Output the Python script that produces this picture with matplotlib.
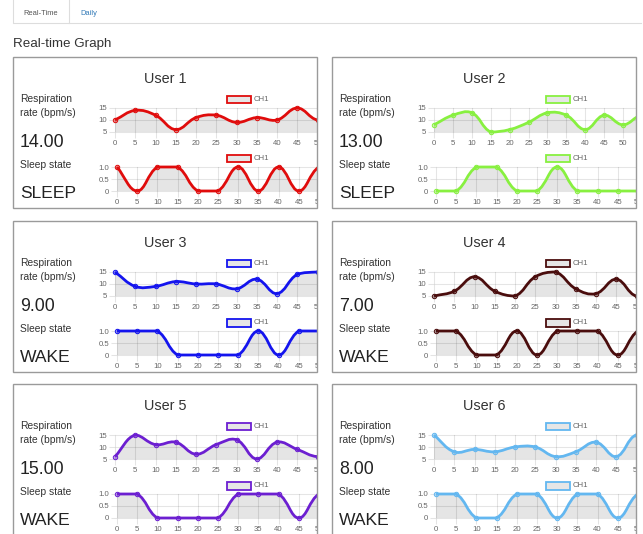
import numpy as np
import matplotlib
matplotlib.use("Agg")
import matplotlib.pyplot as plt
from matplotlib.path import Path
from matplotlib.patches import PathPatch, Rectangle
from matplotlib.lines import Line2D
from matplotlib.transforms import Affine2D

W, H = 643, 534
plt.rcParams["font.family"] = ["Liberation Sans", "DejaVu Sans"]

# Data
users = ["User 1", "User 2", "User 3", "User 4", "User 5", "User 6"]
resp_now = ["14.00", "13.00", "9.00", "7.00", "15.00", "8.00"]
states = ["SLEEP", "SLEEP", "WAKE", "WAKE", "WAKE", "WAKE"]
colors = ["#e00c0c", "#88f040", "#1414ee", "#4a0d0d", "#6c1fd1", "#63b7f0"]

labels = [0, 5, 10, 15, 20, 25, 30, 35, 40, 45, 50, 55]
labels_u2 = [0, 5, 10, 15, 20, 25, 30, 35, 40, 45, 50, 55, 60]

resp_1 = [10, 14, 12, 6, 11, 12, 9, 11, 10, 15, 10, 12]
resp_2 = [8, 12, 13, 5, 6, 9, 13, 12, 6, 12, 8, 12, 10]
resp_3 = [15, 9, 9, 11, 10, 10, 8, 12, 6, 14, 15, 15]
resp_4 = [5, 7, 13, 7, 5, 13, 15, 8, 6, 12, 5, 9]
resp_5 = [6, 15, 11, 12, 7, 11, 13, 5, 12, 9, 6, 8]
resp_6 = [15, 8, 9, 8, 10, 10, 6, 8, 12, 6, 15, 10]

sleep_1 = [1, 0, 1, 1, 0, 0, 1, 0, 1, 0, 1, 1]
sleep_2 = [0, 0, 1, 1, 0, 0, 1, 0, 0, 0, 0, 0]
sleep_3 = [1, 1, 1, 0, 0, 0, 0, 1, 0, 1, 1, 1]
sleep_4 = [1, 1, 0, 0, 1, 0, 1, 1, 1, 0, 1, 1]
sleep_5 = [1, 1, 0, 0, 0, 0, 1, 1, 1, 0, 1, 1]
sleep_6 = [1, 1, 0, 0, 1, 1, 0, 1, 1, 0, 1, 1]

resp_series = [(labels, resp_1), (labels_u2, resp_2), (labels, resp_3),
               (labels, resp_4), (labels, resp_5), (labels, resp_6)]
sleep_series = [sleep_1, sleep_2, sleep_3, sleep_4, sleep_5, sleep_6]

resp_ticks = [5, 10, 15]
resp_ticklabels = ["5", "10", "15"]
sleep_ticks = [0, 0.5, 1.0]
sleep_ticklabels = ["0", "0.5", "1.0"]

TXT = "#333333"

fig = plt.figure(figsize=(W / 100, H / 100), dpi=100)
px = Affine2D().scale(1 / W, -1 / H).translate(0, 1) + fig.transFigure


def fig_rect(x, y, w, h):
    # pixel box (top-left origin) -> figure fraction [l, b, w, h]
    return [x / W, 1 - (y + h) / H, w / W, h / H]


def spline(xs, ys, sx, sy, lo, hi, t=0.4):
    # chart.js style bezier (tension 0.4, control points capped to area)
    pxs = np.asarray(xs, float) * sx
    pys = np.asarray(ys, float) * sy
    n = len(pxs)
    cin, cout = [], []
    for i in range(n):
        a, b = max(i - 1, 0), min(i + 1, n - 1)
        d01 = np.hypot(pxs[i] - pxs[a], pys[i] - pys[a])
        d12 = np.hypot(pxs[b] - pxs[i], pys[b] - pys[i])
        tot = d01 + d12
        fa = t * (d01 / tot if tot else 0)
        fb = t * (d12 / tot if tot else 0)
        dx, dy = pxs[b] - pxs[a], pys[b] - pys[a]
        cin.append((pxs[i] - fa * dx, pys[i] - fa * dy))
        cout.append((pxs[i] + fb * dx, pys[i] + fb * dy))

    def back(p):
        return (p[0] / sx, min(max(p[1] / sy, lo), hi))

    verts = [(xs[0], ys[0])]
    codes = [Path.MOVETO]
    for i in range(1, n):
        verts += [back(cout[i - 1]), back(cin[i]), (xs[i], ys[i])]
        codes += [Path.CURVE4] * 3
    return verts, codes


def draw_chart(box, xs, ys, color, lo, hi, ticks, ticklabels, ppu, clip):
    x0, y0, w, h = box
    ax = fig.add_axes(fig_rect(x0, y0, w, h))
    for s in ax.spines.values():
        s.set_visible(False)
    ax.set_xticks(xs)
    ax.set_yticks(ticks)
    ax.set_yticklabels(ticklabels)
    # limits after the ticks, set_xticks would widen them
    ax.set_xlim(0, w / ppu)
    ax.set_ylim(lo, hi)
    ax.tick_params(length=4, width=0.75, color="#e4e4e4", labelsize=5.6,
                   labelcolor="#666666", pad=1.8)
    ax.grid(True, color="#000000", alpha=0.1, lw=0.75)
    for tk in ax.xaxis.get_major_ticks() + ax.yaxis.get_major_ticks():
        tk.gridline.set_clip_path(clip)
        tk.label1.set_clip_path(clip)
        tk.tick1line.set_clip_path(clip)

    verts, codes = spline(xs, ys, ppu, h / (hi - lo), lo, hi)
    fverts = verts + [(xs[-1], lo), (xs[0], lo), (xs[0], lo)]
    fcodes = codes + [Path.LINETO, Path.LINETO, Path.CLOSEPOLY]
    fill = ax.add_patch(PathPatch(Path(fverts, fcodes), facecolor=(0, 0, 0, 0.1),
                                  edgecolor="none", zorder=2))
    line = ax.add_patch(PathPatch(Path(verts, codes), facecolor="none",
                                  edgecolor=color, lw=2.0, zorder=3))
    pts, = ax.plot(xs, ys, "o", ms=3.2, mfc=matplotlib.colors.to_rgba(color, 0.4),
                   mec=color, mew=0.7, zorder=4)
    for art in (fill, line, pts):
        art.set_clip_path(clip)
    return ax


def legend(x, y, color):
    fig.add_artist(Rectangle((x - 12, y - 3.8), 24, 7.6, transform=px,
                             facecolor="#e6e6e6", edgecolor=color, lw=1.3))
    fig.text((x + 15) / W, 1 - y / H, "CH1", fontsize=5.6, color="#666666",
             va="center", ha="left")


def label(x, y, s, size, **kw):
    fig.text(x / W, 1 - y / H, s, fontsize=size, va="baseline", **kw)


# Tabs
fig.add_artist(Line2D([13, 13, 69, 69], [-2, 23, 23, -2], transform=px,
                      color="#dddddd", lw=0.8))
fig.add_artist(Line2D([69, 641], [23, 23], transform=px, color="#dddddd", lw=0.8))
label(41, 14.7, "Real-Time", 5.4, color="#555555", ha="center")
label(89, 14.7, "Daily", 5.4, color="#337ab7", ha="center")
label(13, 47, "Real-time Graph", 9.6, color=TXT)

lefts = [13, 332]
tops = [57, 221, 384]
PW, PH = 304, 151

for k in range(6):
    L = lefts[k % 2]
    T = tops[k // 2]
    col = colors[k]
    clip = Rectangle((L / W, 1 - (T + PH) / H), PW / W, PH / H,
                     transform=fig.transFigure)

    fig.add_artist(Rectangle((L / W, 1 - (T + PH) / H), PW / W, PH / H,
                             transform=fig.transFigure, fill=False,
                             edgecolor="#9a9a9a", lw=1.0, zorder=5))

    label(L + 152, T + 25.7, users[k], 10.4, color=TXT, ha="center")
    label(L + 7, T + 44.7, "Respiration", 7.4, color=TXT)
    label(L + 7, T + 59, "rate (bpm/s)", 7.4, color=TXT)
    label(L + 7, T + 89.7, resp_now[k], 12.8, color="#222222")
    label(L + 7, T + 111.3, "Sleep state", 7.4, color=TXT)
    label(L + 7, T + 141.3, states[k], 12.6, color="#222222")

    xs, ys = resp_series[k]
    ppu = 3.78 if len(xs) > len(labels) else 4.05
    draw_chart((L + 102, T + 51, 204, 24), xs, ys, col, 5, 15,
               resp_ticks, resp_ticklabels, ppu, clip)
    draw_chart((L + 104, T + 110, 204, 24), labels, sleep_series[k], col, 0, 1,
               sleep_ticks, sleep_ticklabels, 4.04, clip)

    legend(L + 226, T + 42.4, col)
    legend(L + 226, T + 101.7, col)

fig.savefig("out.png", dpi=100)
